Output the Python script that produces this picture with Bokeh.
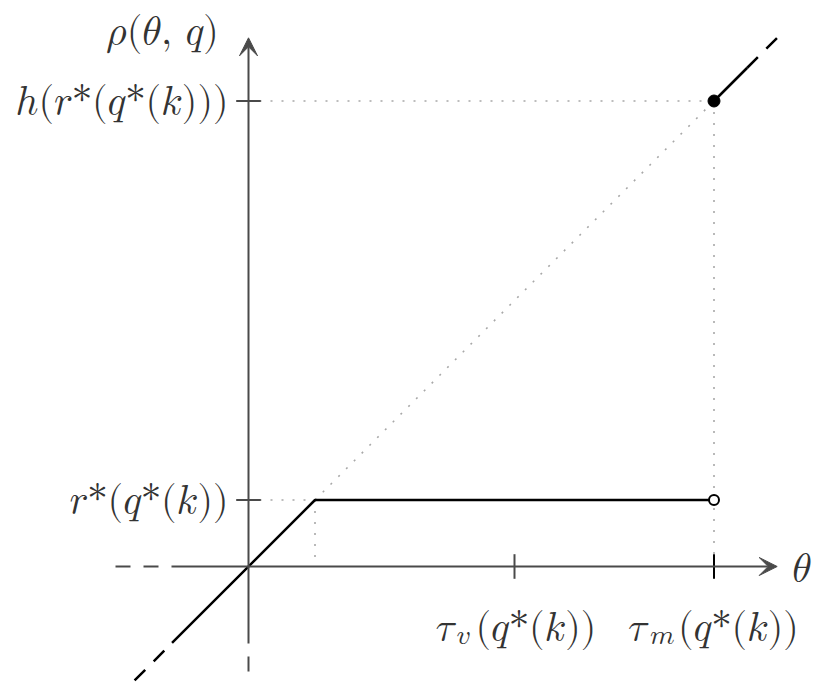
from bokeh.plotting import figure
from bokeh.models import Range1d, ColumnDataSource, Arrow, VeeHead
from bokeh.core.properties import value
from bokeh.embed import file_html
from bokeh.resources import INLINE

# ---- data (model values) ----
r_star = 1.0      # r*(q*(k))
tau_v = 4.0       # tau_v(q*(k))
tau_m = 7.0       # tau_m(q*(k))
h_val = 7.0       # h(r*(q*(k)))
axis_lo = -2.0
axis_hi = 7.95
solid_start = -1.15
upper_solid_end = 7.5
upper_dash_end = 8.0

x_tick_vals = [tau_v, tau_m]
x_tick_sym = ["𝜏", "𝜏"]
x_tick_sub = ["𝑣", "𝑚"]
x_tick_arg = ["(𝑞*(𝑘))", "(𝑞*(𝑘))"]
y_tick_vals = [r_star, h_val]
y_tick_labels = ["𝑟*(𝑞*(𝑘))", "ℎ(𝑟*(𝑞*(𝑘)))"]
y_axis_label = "𝜌(𝜃, 𝑞)"
x_axis_label = "𝜃"

# ---- layout ----
W, H = 816, 684
scale = 66.5            # px per unit
ox, oy = 248.0, 566.0   # origin in figure pixels
x0 = -ox / scale
x1 = (W - ox) / scale
y1 = oy / scale
y0 = -(H - oy) / scale

p = figure(width=W, height=H, x_range=Range1d(x0, x1), y_range=Range1d(y0, y1),
           x_axis_type=None, y_axis_type=None, toolbar_location=None,
           output_backend="svg", min_border=0, outline_line_color=None)
p.grid.visible = False

AX = "#4a4a4a"
TXT = "#333333"
DOT = "#a8a8a8"

# dotted guides
p.line([0, tau_m], [h_val, h_val], line_color=DOT, line_width=1.6, line_dash="2 9")
p.line([tau_m, tau_m], [h_val, 0], line_color=DOT, line_width=1.6, line_dash="2 9")
p.line([r_star, h_val], [r_star, h_val], line_color=DOT, line_width=1.6, line_dash="2 9")
p.line([0, r_star], [r_star, r_star], line_color=DOT, line_width=1.6, line_dash="2 9")
p.line([r_star, r_star], [r_star, 0], line_color=DOT, line_width=1.6, line_dash="2 9")

# axes
p.line([axis_lo, solid_start], [0, 0], line_color=AX, line_width=2, line_dash="15 13")
p.line([0, 0], [axis_lo, solid_start], line_color=AX, line_width=2, line_dash="15 13")
p.add_layout(Arrow(end=VeeHead(size=18, fill_color=AX, line_color=AX, line_width=1),
                   x_start=solid_start, y_start=0, x_end=axis_hi, y_end=0,
                   line_color=AX, line_width=2))
p.add_layout(Arrow(end=VeeHead(size=18, fill_color=AX, line_color=AX, line_width=1),
                   x_start=0, y_start=solid_start, x_end=0, y_end=axis_hi,
                   line_color=AX, line_width=2))

# ticks
tk = 0.185
p.segment(x0=[-tk, -tk], y0=y_tick_vals, x1=[tk, tk], y1=y_tick_vals, line_color=AX, line_width=2)
p.segment(x0=[tau_v], y0=[-tk], x1=[tau_v], y1=[tk], line_color=AX, line_width=2)
p.segment(x0=[tau_m], y0=[-tk], x1=[tau_m], y1=[tk], line_color="black", line_width=2)

# function
p.line([axis_lo, solid_start], [axis_lo, solid_start], line_color="black", line_width=2.5, line_dash="15 12")
p.line([solid_start, r_star, tau_m], [solid_start, r_star, r_star], line_color="black", line_width=2.5)
p.line([tau_m, upper_solid_end], [h_val, upper_solid_end], line_color="black", line_width=2.5)
p.line([upper_solid_end, upper_dash_end], [upper_solid_end, upper_dash_end], line_color="black",
       line_width=2.5, line_dash="15 12")

p.scatter([tau_m], [h_val], size=12, fill_color="black", line_color="black")
p.scatter([tau_m], [r_star], size=10, fill_color="white", line_color="black", line_width=2)

# labels
FONT = value("Latin Modern Math")
FS = "40px"
SUB = "28px"
common = dict(text_font=FONT, text_color=TXT, text_baseline="alphabetic")

ysrc = ColumnDataSource(dict(x=[0.0] * 2, y=y_tick_vals, t=y_tick_labels))
p.text("x", "y", text="t", source=ysrc, text_align="right", x_offset=-20, y_offset=1,
       text_font_size=FS, **common)

xsrc = ColumnDataSource(dict(x=x_tick_vals, y=[0.0] * 2, s=x_tick_sym, b=x_tick_sub, a=x_tick_arg,
                             o1=[-79, -86], o2=[-58, -64], o3=[-39, -36]))
p.text("x", "y", text="s", source=xsrc, text_align="left", x_offset="o1", y_offset=61,
       text_font_size=FS, **common)
p.text("x", "y", text="b", source=xsrc, text_align="left", x_offset="o2", y_offset=68,
       text_font_size=SUB, **common)
p.text("x", "y", text="a", source=xsrc, text_align="left", x_offset="o3", y_offset=61,
       text_font_size=FS, **common)

p.text([0.0], [axis_hi], text=[y_axis_label], text_align="center", x_offset=-86, y_offset=-6,
       text_font_size=FS, **common)
p.text([axis_hi], [0.0], text=[x_axis_label], text_align="left", x_offset=15, y_offset=2,
       text_font_size=FS, **common)

open("out.html", "w").write(file_html(p, INLINE))
